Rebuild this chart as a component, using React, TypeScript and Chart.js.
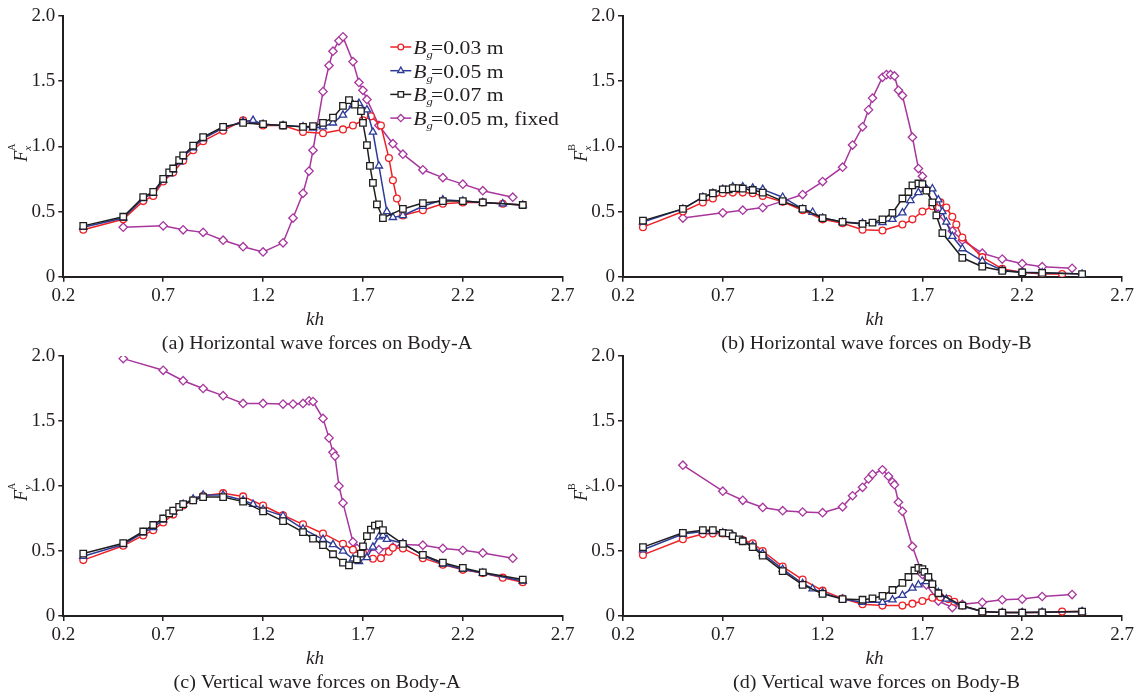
import React, { useEffect, useRef } from 'react';
import { Chart, registerables } from 'chart.js';

Chart.register(...registerables);

const SERIF = '"Liberation Serif", "Times New Roman", "DejaVu Serif", serif';
const INK = '#231f20';
const PAGE_W = 1140;
const PAGE_H = 693;
const Y_AXIS_W = 50;
const X_AXIS_H = 30;

// ---- axis ticks / labels ----
const xTickValues = [0.2, 0.7, 1.2, 1.7, 2.2, 2.7];
const yTickValues = [0, 0.5, 1.0, 1.5, 2.0];
const legendValues = ['=0.03 m', '=0.05 m', '=0.07 m', '=0.05 m, fixed'];

// ---- (a) Horizontal wave forces on Body-A ----
const aRedX = [0.3, 0.5, 0.6, 0.65, 0.7, 0.75, 0.8, 0.85, 0.9, 1.0, 1.1, 1.2, 1.3, 1.4, 1.5, 1.6, 1.65, 1.7, 1.74, 1.79, 1.83, 1.85, 1.87, 1.9, 2.0, 2.1, 2.2, 2.3, 2.4, 2.5];
const aRedY = [0.36, 0.44, 0.58, 0.62, 0.73, 0.80, 0.89, 0.97, 1.04, 1.12, 1.20, 1.16, 1.16, 1.11, 1.10, 1.13, 1.16, 1.20, 1.23, 1.16, 0.91, 0.74, 0.60, 0.47, 0.51, 0.56, 0.57, 0.57, 0.56, 0.55];
const aBlueX = [0.3, 0.5, 0.6, 0.65, 0.7, 0.73, 0.75, 0.78, 0.8, 0.85, 0.9, 1.0, 1.1, 1.15, 1.2, 1.3, 1.4, 1.45, 1.5, 1.55, 1.6, 1.65, 1.68, 1.72, 1.75, 1.78, 1.82, 1.85, 1.9, 2.0, 2.1, 2.2, 2.3, 2.4, 2.5];
const aBlueY = [0.38, 0.45, 0.60, 0.64, 0.74, 0.79, 0.82, 0.88, 0.92, 0.99, 1.06, 1.14, 1.19, 1.20, 1.17, 1.16, 1.15, 1.14, 1.15, 1.18, 1.24, 1.32, 1.33, 1.28, 1.11, 0.85, 0.50, 0.455, 0.47, 0.54, 0.59, 0.58, 0.57, 0.56, 0.55];
const aBlackX = [0.3, 0.5, 0.6, 0.65, 0.7, 0.73, 0.75, 0.78, 0.8, 0.85, 0.9, 1.0, 1.1, 1.2, 1.3, 1.4, 1.45, 1.5, 1.55, 1.6, 1.63, 1.66, 1.69, 1.7, 1.72, 1.735, 1.75, 1.77, 1.8, 1.9, 2.0, 2.1, 2.2, 2.3, 2.5];
const aBlackY = [0.39, 0.46, 0.61, 0.65, 0.75, 0.80, 0.83, 0.895, 0.93, 1.005, 1.07, 1.15, 1.18, 1.17, 1.16, 1.15, 1.155, 1.18, 1.22, 1.31, 1.355, 1.32, 1.27, 1.18, 1.01, 0.85, 0.72, 0.555, 0.45, 0.52, 0.565, 0.58, 0.58, 0.57, 0.55];
const aFixedX = [0.5, 0.7, 0.8, 0.9, 1.0, 1.1, 1.2, 1.3, 1.35, 1.4, 1.43, 1.45, 1.5, 1.53, 1.55, 1.58, 1.6, 1.65, 1.68, 1.7, 1.72, 1.78, 1.85, 1.9, 2.0, 2.1, 2.2, 2.3, 2.45];
const aFixedY = [0.38, 0.39, 0.36, 0.34, 0.28, 0.23, 0.19, 0.26, 0.45, 0.64, 0.81, 0.97, 1.42, 1.62, 1.73, 1.81, 1.84, 1.65, 1.49, 1.43, 1.36, 1.16, 1.02, 0.94, 0.82, 0.76, 0.71, 0.66, 0.61];

// ---- (b) Horizontal wave forces on Body-B ----
const bRedX = [0.3, 0.5, 0.6, 0.65, 0.7, 0.75, 0.8, 0.85, 0.9, 1.0, 1.1, 1.2, 1.3, 1.4, 1.5, 1.6, 1.65, 1.7, 1.75, 1.79, 1.82, 1.85, 1.87, 1.9, 2.0, 2.1, 2.2, 2.3, 2.4];
const bRedY = [0.38, 0.50, 0.57, 0.60, 0.64, 0.645, 0.645, 0.64, 0.62, 0.575, 0.51, 0.44, 0.41, 0.36, 0.355, 0.40, 0.44, 0.50, 0.54, 0.57, 0.53, 0.46, 0.40, 0.30, 0.15, 0.06, 0.035, 0.02, 0.02];
const bBlueX = [0.3, 0.5, 0.6, 0.65, 0.7, 0.75, 0.8, 0.85, 0.9, 1.0, 1.1, 1.15, 1.2, 1.3, 1.4, 1.5, 1.55, 1.6, 1.64, 1.68, 1.72, 1.75, 1.78, 1.8, 1.82, 1.85, 1.9, 2.0, 2.1, 2.2, 2.3, 2.5];
const bBlueY = [0.42, 0.52, 0.61, 0.64, 0.67, 0.69, 0.69, 0.68, 0.67, 0.61, 0.52, 0.495, 0.45, 0.42, 0.41, 0.415, 0.44, 0.49, 0.585, 0.645, 0.67, 0.675, 0.59, 0.50, 0.42, 0.31, 0.215, 0.12, 0.05, 0.035, 0.03, 0.02];
const bBlackX = [0.3, 0.5, 0.6, 0.65, 0.7, 0.73, 0.75, 0.78, 0.8, 0.85, 0.9, 1.0, 1.1, 1.2, 1.3, 1.4, 1.45, 1.5, 1.55, 1.6, 1.63, 1.65, 1.68, 1.7, 1.72, 1.75, 1.77, 1.8, 1.9, 2.0, 2.1, 2.2, 2.3, 2.5];
const bBlackY = [0.43, 0.52, 0.61, 0.64, 0.67, 0.67, 0.68, 0.68, 0.675, 0.665, 0.645, 0.58, 0.52, 0.45, 0.42, 0.405, 0.415, 0.44, 0.49, 0.60, 0.65, 0.70, 0.715, 0.71, 0.66, 0.57, 0.47, 0.335, 0.145, 0.077, 0.045, 0.033, 0.03, 0.02];
const bFixedX = [0.5, 0.7, 0.8, 0.9, 1.0, 1.1, 1.2, 1.3, 1.35, 1.4, 1.43, 1.45, 1.5, 1.52, 1.54, 1.56, 1.58, 1.6, 1.65, 1.68, 1.7, 1.72, 1.78, 1.85, 1.9, 2.0, 2.1, 2.2, 2.3, 2.45];
const bFixedY = [0.45, 0.49, 0.51, 0.53, 0.58, 0.63, 0.73, 0.84, 1.01, 1.15, 1.28, 1.37, 1.53, 1.55, 1.55, 1.54, 1.43, 1.39, 1.07, 0.83, 0.77, 0.67, 0.48, 0.35, 0.28, 0.18, 0.135, 0.10, 0.077, 0.064];

// ---- (c) Vertical wave forces on Body-A ----
const cRedX = [0.3, 0.5, 0.6, 0.65, 0.7, 0.75, 0.8, 0.85, 0.9, 1.0, 1.1, 1.2, 1.3, 1.4, 1.5, 1.6, 1.65, 1.7, 1.75, 1.79, 1.83, 1.85, 1.9, 2.0, 2.1, 2.2, 2.3, 2.4, 2.5];
const cRedY = [0.43, 0.54, 0.62, 0.66, 0.72, 0.78, 0.85, 0.89, 0.925, 0.945, 0.92, 0.85, 0.775, 0.705, 0.635, 0.555, 0.51, 0.485, 0.44, 0.445, 0.495, 0.525, 0.52, 0.445, 0.395, 0.355, 0.33, 0.295, 0.26];
const cBlueX = [0.3, 0.5, 0.6, 0.65, 0.7, 0.75, 0.8, 0.85, 0.9, 1.0, 1.1, 1.15, 1.2, 1.3, 1.4, 1.5, 1.55, 1.6, 1.65, 1.68, 1.72, 1.75, 1.78, 1.8, 1.82, 1.9, 2.0, 2.1, 2.2, 2.3, 2.5];
const cBlueY = [0.46, 0.55, 0.64, 0.68, 0.74, 0.80, 0.86, 0.90, 0.93, 0.93, 0.89, 0.86, 0.82, 0.77, 0.67, 0.59, 0.55, 0.50, 0.44, 0.42, 0.45, 0.53, 0.61, 0.62, 0.59, 0.56, 0.465, 0.40, 0.36, 0.33, 0.27];
const cBlackX = [0.3, 0.5, 0.6, 0.65, 0.7, 0.73, 0.75, 0.78, 0.8, 0.85, 0.9, 1.0, 1.1, 1.2, 1.3, 1.4, 1.45, 1.5, 1.55, 1.6, 1.63, 1.67, 1.69, 1.7, 1.72, 1.74, 1.76, 1.78, 1.8, 1.9, 2.0, 2.1, 2.2, 2.3, 2.5];
const cBlackY = [0.48, 0.56, 0.65, 0.70, 0.75, 0.79, 0.81, 0.84, 0.86, 0.89, 0.915, 0.915, 0.88, 0.805, 0.73, 0.645, 0.595, 0.545, 0.475, 0.41, 0.39, 0.435, 0.48, 0.535, 0.615, 0.665, 0.695, 0.705, 0.66, 0.555, 0.47, 0.41, 0.37, 0.335, 0.28];
const cFixedX = [0.5, 0.7, 0.8, 0.9, 1.0, 1.1, 1.2, 1.3, 1.35, 1.4, 1.43, 1.45, 1.5, 1.53, 1.55, 1.56, 1.58, 1.6, 1.65, 1.67, 1.71, 1.78, 1.85, 1.9, 2.0, 2.1, 2.2, 2.3, 2.45];
const cFixedY = [1.98, 1.89, 1.81, 1.75, 1.695, 1.635, 1.635, 1.63, 1.63, 1.635, 1.655, 1.65, 1.52, 1.37, 1.26, 1.23, 1.0, 0.87, 0.57, 0.52, 0.50, 0.51, 0.53, 0.55, 0.545, 0.52, 0.505, 0.485, 0.445];

// ---- (d) Vertical wave forces on Body-B ----
const dRedX = [0.3, 0.5, 0.6, 0.65, 0.7, 0.75, 0.8, 0.85, 0.9, 1.0, 1.1, 1.2, 1.3, 1.4, 1.5, 1.6, 1.65, 1.7, 1.75, 1.79, 1.83, 1.86, 1.9, 2.0, 2.1, 2.2, 2.3, 2.4, 2.5];
const dRedY = [0.47, 0.59, 0.63, 0.635, 0.635, 0.615, 0.585, 0.56, 0.50, 0.38, 0.28, 0.195, 0.135, 0.09, 0.08, 0.08, 0.095, 0.115, 0.14, 0.145, 0.13, 0.11, 0.08, 0.035, 0.026, 0.026, 0.026, 0.034, 0.034];
const dBlueX = [0.3, 0.5, 0.6, 0.65, 0.7, 0.75, 0.8, 0.85, 0.9, 1.0, 1.1, 1.15, 1.2, 1.3, 1.4, 1.5, 1.55, 1.6, 1.65, 1.68, 1.72, 1.75, 1.78, 1.82, 1.9, 2.0, 2.1, 2.2, 2.3, 2.5];
const dBlueY = [0.51, 0.63, 0.65, 0.65, 0.64, 0.62, 0.58, 0.54, 0.48, 0.36, 0.25, 0.21, 0.18, 0.13, 0.105, 0.105, 0.125, 0.16, 0.215, 0.24, 0.265, 0.25, 0.18, 0.13, 0.075, 0.035, 0.026, 0.026, 0.028, 0.034];
const dBlackX = [0.3, 0.5, 0.6, 0.65, 0.7, 0.73, 0.75, 0.78, 0.8, 0.85, 0.9, 1.0, 1.1, 1.2, 1.3, 1.4, 1.45, 1.5, 1.55, 1.6, 1.63, 1.66, 1.68, 1.7, 1.71, 1.73, 1.75, 1.78, 1.9, 2.0, 2.1, 2.2, 2.3, 2.5];
const dBlackY = [0.53, 0.64, 0.66, 0.66, 0.64, 0.635, 0.615, 0.59, 0.575, 0.53, 0.465, 0.345, 0.24, 0.17, 0.13, 0.125, 0.135, 0.155, 0.20, 0.255, 0.30, 0.35, 0.37, 0.36, 0.34, 0.30, 0.245, 0.175, 0.08, 0.034, 0.026, 0.026, 0.028, 0.034];
const dFixedX = [0.5, 0.7, 0.8, 0.9, 1.0, 1.1, 1.2, 1.3, 1.35, 1.4, 1.43, 1.45, 1.5, 1.53, 1.55, 1.56, 1.58, 1.6, 1.65, 1.7, 1.72, 1.78, 1.85, 1.9, 2.0, 2.1, 2.2, 2.3, 2.45];
const dFixedY = [1.16, 0.96, 0.89, 0.835, 0.81, 0.80, 0.795, 0.84, 0.925, 0.99, 1.055, 1.09, 1.125, 1.075, 1.03, 1.01, 0.875, 0.805, 0.535, 0.32, 0.24, 0.115, 0.065, 0.09, 0.105, 0.125, 0.13, 0.15, 0.165];

// ---- styles ----
const seriesStyles = [
  { color: '#ec2227', pointStyle: 'circle', radius: 3.4, order: 2 },
  { color: '#2e3b97', pointStyle: 'triangle', radius: 4.2, order: 1 },
  { color: '#1f1f1f', pointStyle: 'rect', radius: 4.6, order: 0 },
  { color: '#a7369d', pointStyle: 'rectRot', radius: 4.2, order: 3 },
];

const panels = [
  { key: 'a', left: 63.3, right: 562.7, top: 16, bottom: 276.7, caption: '(a) Horizontal wave forces on Body-A', sub: 'x', sup: 'A', legend: true,
    series: [[aRedX, aRedY], [aBlueX, aBlueY], [aBlackX, aBlackY], [aFixedX, aFixedY]] },
  { key: 'b', left: 623, right: 1122, top: 16, bottom: 276.7, caption: '(b) Horizontal wave forces on Body-B', sub: 'x', sup: 'B', legend: false,
    series: [[bRedX, bRedY], [bBlueX, bBlueY], [bBlackX, bBlackY], [bFixedX, bFixedY]] },
  { key: 'c', left: 63.3, right: 562.7, top: 356, bottom: 616, caption: '(c) Vertical wave forces on Body-A', sub: 'y', sup: 'A', legend: false,
    series: [[cRedX, cRedY], [cBlueX, cBlueY], [cBlackX, cBlackY], [cFixedX, cFixedY]] },
  { key: 'd', left: 623, right: 1122, top: 356, bottom: 616, caption: '(d) Vertical wave forces on Body-B', sub: 'y', sup: 'B', legend: false,
    series: [[dRedX, dRedY], [dBlueX, dBlueY], [dBlackX, dBlackY], [dFixedX, dFixedY]] },
];

function drawMarker(ctx: CanvasRenderingContext2D, style: string, x: number, y: number, r: number, color: string) {
  ctx.save();
  ctx.beginPath();
  if (style === 'circle') {
    ctx.arc(x, y, r, 0, Math.PI * 2);
  } else if (style === 'triangle') {
    ctx.moveTo(x, y - r);
    ctx.lineTo(x + r * 0.866, y + r * 0.5);
    ctx.lineTo(x - r * 0.866, y + r * 0.5);
    ctx.closePath();
  } else if (style === 'rect') {
    const s = r * Math.SQRT1_2;
    ctx.rect(x - s, y - s, 2 * s, 2 * s);
  } else {
    ctx.moveTo(x, y - r);
    ctx.lineTo(x + r, y);
    ctx.lineTo(x, y + r);
    ctx.lineTo(x - r, y);
    ctx.closePath();
  }
  ctx.fillStyle = '#fff';
  ctx.fill();
  ctx.lineWidth = 1.3;
  ctx.strokeStyle = color;
  ctx.stroke();
  ctx.restore();
}

function makeTextPlugin(p: any) {
  return {
    id: 'panelText_' + p.key,
    afterDraw(chart: any) {
      const ctx: CanvasRenderingContext2D = chart.ctx;
      const area = chart.chartArea;
      const cx = (area.left + area.right) / 2;
      ctx.save();
      ctx.fillStyle = INK;
      ctx.textAlign = 'center';
      ctx.textBaseline = 'middle';
      ctx.font = `italic 19px ${SERIF}`;
      ctx.fillText('kh', cx + 2, area.bottom + 43);

      // caption, slightly widened like the reference typesetting
      ctx.save();
      ctx.translate(cx + 4, area.bottom + 67);
      ctx.scale(1.06, 1);
      ctx.font = `19px ${SERIF}`;
      ctx.fillText(p.caption, 0, 0);
      ctx.restore();

      // y label: F with subscript and superscript, rotated
      ctx.save();
      ctx.translate(area.left - 36, area.bottom - 115);
      ctx.rotate(-Math.PI / 2);
      ctx.textAlign = 'left';
      ctx.textBaseline = 'alphabetic';
      ctx.font = `italic 18px ${SERIF}`;
      ctx.fillText('F', 0, 0);
      const fw = ctx.measureText('F').width;
      ctx.font = `italic 11px ${SERIF}`;
      ctx.fillText(p.sub, fw, 4);
      ctx.font = `10px ${SERIF}`;
      ctx.fillText(p.sup, fw, -12);
      ctx.restore();

      if (p.legend) {
        const lx = area.left + 327;
        const ly = area.top + 31;
        for (let i = 0; i < legendValues.length; i++) {
          const st = seriesStyles[i];
          const y = ly + i * 23.7;
          ctx.strokeStyle = st.color;
          ctx.lineWidth = 1.5;
          ctx.beginPath();
          ctx.moveTo(lx, y);
          ctx.lineTo(lx + 21, y);
          ctx.stroke();
          drawMarker(ctx, st.pointStyle, lx + 10.5, y, st.radius * 0.85, st.color);
          ctx.save();
          ctx.translate(lx + 23, y + 7);
          ctx.scale(1.14, 1);
          ctx.fillStyle = INK;
          ctx.textAlign = 'left';
          ctx.textBaseline = 'alphabetic';
          ctx.font = `italic 19px ${SERIF}`;
          ctx.fillText('B', 0, 0);
          const bw = ctx.measureText('B').width;
          ctx.font = `italic 11px ${SERIF}`;
          ctx.fillText('g', bw, 4);
          ctx.font = `19px ${SERIF}`;
          ctx.fillText(legendValues[i], bw + 4, 0);
          ctx.restore();
        }
      }
      ctx.restore();
    },
  };
}

const fmt = (v: any) => (Number(v) === 0 ? '0' : Number(v).toFixed(1));

function Panel({ p }: { p: any }) {
  const ref = useRef<HTMLCanvasElement | null>(null);
  useEffect(() => {
    if (!ref.current) return;
    const datasets = p.series.map((s: any, i: number) => {
      const st = seriesStyles[i];
      const xs: number[] = s[0];
      const ys: number[] = s[1];
      return {
        label: legendValues[i],
        data: xs.map((x, j) => ({ x, y: ys[j] })),
        borderColor: st.color,
        backgroundColor: '#fff',
        pointBackgroundColor: '#fff',
        pointBorderColor: st.color,
        pointStyle: st.pointStyle,
        pointRadius: st.radius,
        pointBorderWidth: 1.3,
        borderWidth: 1.5,
        tension: 0,
        fill: false,
        order: st.order,
      };
    });
    const axisCommon = {
      grid: { display: true, drawOnChartArea: false, drawTicks: true, tickLength: 5, color: INK, lineWidth: 1.5 },
      border: { display: true, color: INK, width: 2 },
    };
    const chart = new Chart(ref.current, {
      type: 'line',
      data: { datasets },
      options: {
        responsive: false,
        animation: false,
        devicePixelRatio: 1,
        events: [],
        layout: {
          padding: {
            left: p.left - Y_AXIS_W,
            right: PAGE_W - p.right,
            top: p.top,
            bottom: PAGE_H - p.bottom - X_AXIS_H,
          },
        },
        plugins: { legend: { display: false }, tooltip: { enabled: false }, title: { display: false } },
        scales: {
          x: {
            type: 'linear',
            min: 0.2,
            max: 2.7,
            afterBuildTicks: (s: any) => { s.ticks = xTickValues.map((v) => ({ value: v })); },
            afterFit: (s: any) => { s.height = X_AXIS_H; },
            ticks: { color: INK, font: { family: SERIF, size: 19 }, padding: 3, callback: fmt, autoSkip: false, maxRotation: 0 },
            ...axisCommon,
          },
          y: {
            type: 'linear',
            min: 0,
            max: 2,
            afterBuildTicks: (s: any) => { s.ticks = yTickValues.map((v) => ({ value: v })); },
            afterFit: (s: any) => { s.width = Y_AXIS_W; },
            ticks: { color: INK, font: { family: SERIF, size: 19 }, padding: 3, callback: fmt, autoSkip: false },
            ...axisCommon,
          },
        },
      } as any,
      plugins: [makeTextPlugin(p)],
    });
    return () => chart.destroy();
  }, [p]);
  return (
    <canvas
      ref={ref}
      width={PAGE_W}
      height={PAGE_H}
      style={{ position: 'absolute', left: 0, top: 0, width: PAGE_W, height: PAGE_H }}
    />
  );
}

export default function App() {
  return (
    <div style={{ position: 'absolute', left: 0, top: 0, width: PAGE_W, height: PAGE_H, background: '#fff', overflow: 'hidden' }}>
      {panels.map((p) => (
        <Panel key={p.key} p={p} />
      ))}
    </div>
  );
}
